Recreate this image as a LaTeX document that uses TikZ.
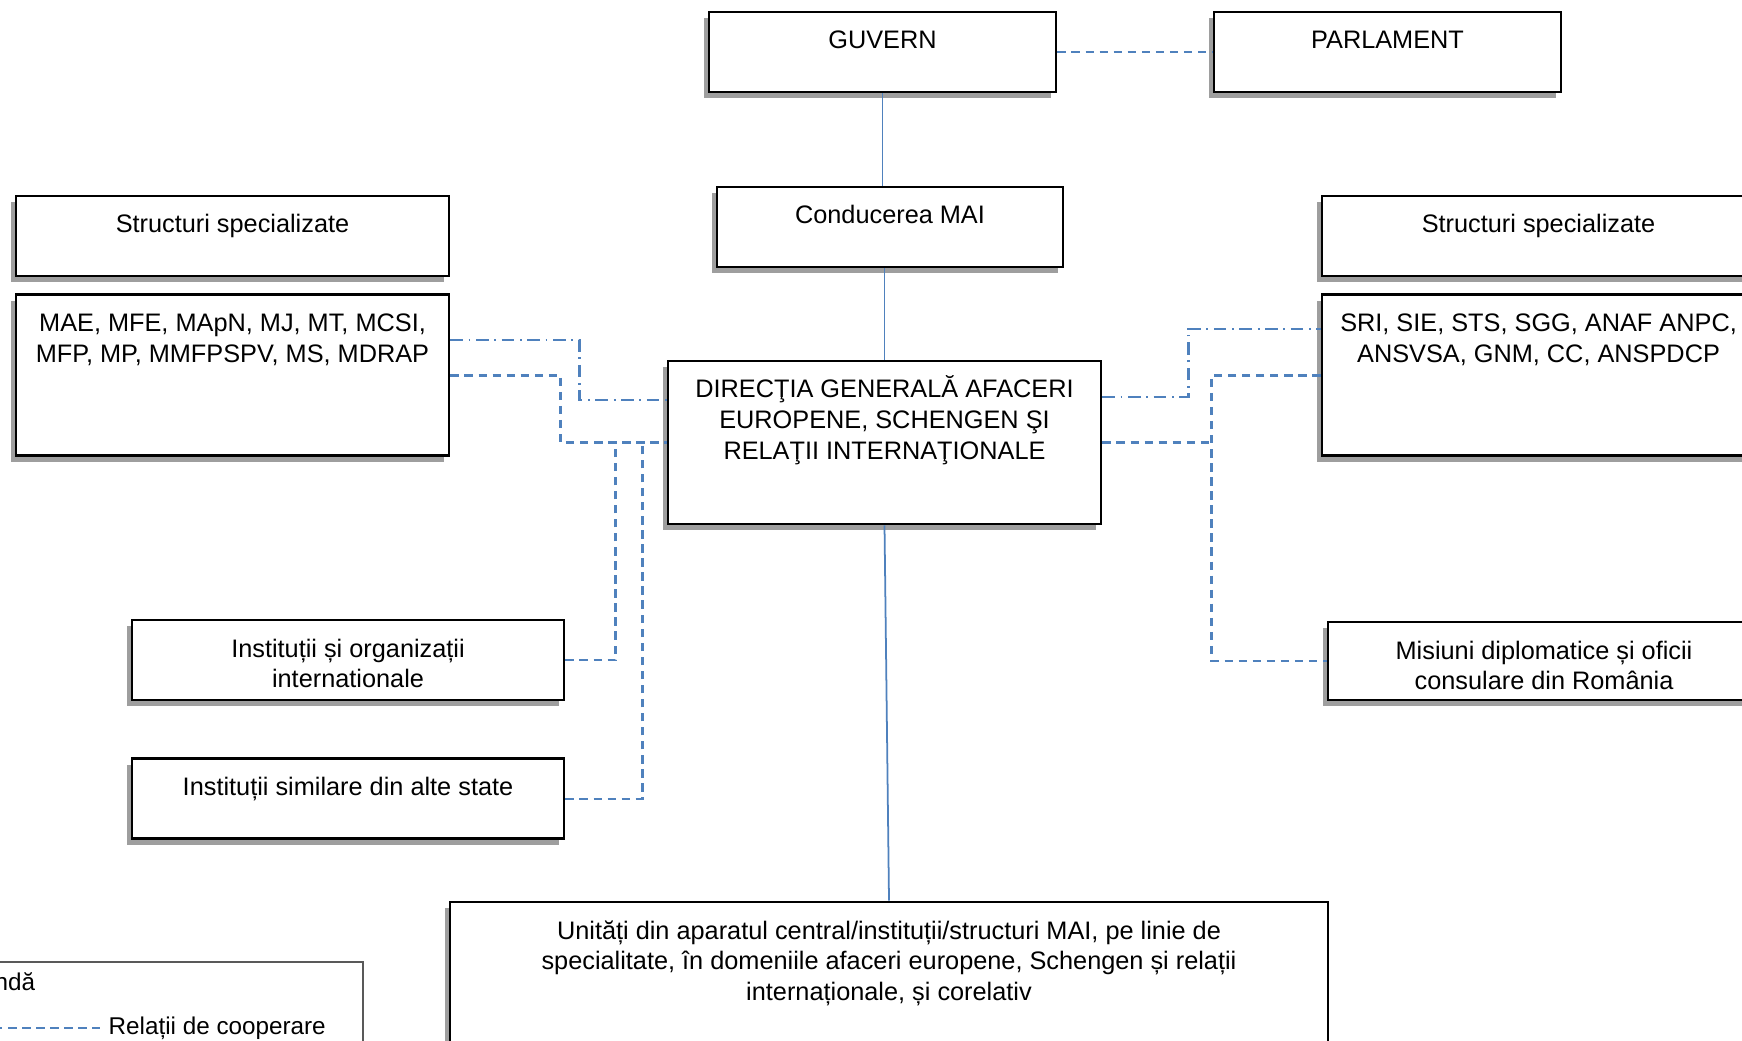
\documentclass[tikz,border=0pt]{standalone}
\usepackage{fontspec}
\setmainfont{Liberation Sans}
\usepackage{tikz}
\usetikzlibrary{positioning,shadows,calc}
\definecolor{linkblue}{RGB}{79,129,189}
\definecolor{shadowgray}{RGB}{158,158,158}
\tikzset{
    orgbox/.style 2 args={draw, line width=0.8pt, fill=white, inner sep=0pt,
        font=\fontsize{7.2}{8.8}\selectfont,
        drop shadow={shadow xshift=-0.5mm, shadow yshift=-0.6mm, fill=shadowgray, opacity=1},
        execute at begin node={\begin{minipage}[c][#2][t]{#1}\centering\rule{0pt}{3.7mm}},
        execute at end node={\end{minipage}}},
    legbox/.style={draw=black!65, line width=0.5pt, minimum width=4.33cm, minimum height=1.08cm, inner sep=0pt},
    legtext/.style={font=\fontsize{6.9}{8}\selectfont, inner sep=0pt, anchor=west},
    hierarchy/.style={linkblue, line width=0.5pt},
    coop/.style={linkblue, line width=0.7pt, dash pattern=on 2.4pt off 1.6pt},
    coord/.style={linkblue, line width=0.7pt, dash pattern=on 3.6pt off 1.6pt on 0.5pt off 1.6pt}
}

\begin{document}
\begin{tikzpicture}
    \clip (0,0) rectangle (17.42,-10.40);

    % conducere
    \node[orgbox={3.47cm}{0.80cm}] (guvern) at (8.825,-0.52) {GUVERN};
    \node[orgbox={3.47cm}{0.80cm}] (parlament) at (13.875,-0.52) {PARLAMENT};
    \node[orgbox={3.46cm}{0.80cm}] (conducerea) at (8.90,-2.27) {Conducerea MAI};
    \node[orgbox={4.33cm}{1.63cm}] (dg) at (8.845,-4.425)
        {DIRECŢIA GENERALĂ AFACERI\\ EUROPENE, SCHENGEN ŞI\\ RELAŢII INTERNAŢIONALE};
    \node[orgbox={8.78cm}{1.63cm}] (unitati) at (8.89,-9.835)
        {Unități din aparatul central/instituții/structuri MAI, pe linie de\\ specialitate, în domeniile afaceri europene, Schengen și relații\\ internaționale, și corelativ};

    % stanga
    \node[orgbox={4.33cm}{0.80cm}] (structl) at (2.325,-2.36) {Structuri specializate};
    \node[orgbox={4.33cm}{1.61cm}, below=0.16cm of structl] (listl)
        {MAE, MFE, MApN, MJ, MT, MCSI,\\ MFP, MP, MMFPSPV, MS, MDRAP};
    \node[orgbox={4.32cm}{0.80cm}] (instorg) at (3.48,-6.60)
        {Instituții și organizații\\ internationale};
    \node[orgbox={4.32cm}{0.80cm}, below=0.56cm of instorg] (instsim)
        {Instituții similare din alte state};

    % dreapta
    \node[orgbox={4.33cm}{0.80cm}] (structr) at (15.385,-2.36) {Structuri specializate};
    \node[orgbox={4.33cm}{1.61cm}, below=0.16cm of structr] (listr)
        {SRI, SIE, STS, SGG, ANAF ANPC,\\ ANSVSA, GNM, CC, ANSPDCP};
    \node[orgbox={4.32cm}{0.78cm}] (misiuni) at (15.44,-6.61)
        {Misiuni diplomatice și oficii\\ consulare din România};

    % legaturi
    \draw[hierarchy] (guvern.south) -- (guvern.south |- conducerea.north);
    \draw[hierarchy] (dg.north) -- (dg.north |- conducerea.south);
    \draw[hierarchy] (dg.south) -- (unitati.north);
    \draw[coop] (guvern.east) -- (parlament.west);

    \draw[coord] ([yshift=3.55mm]listl.east) -- ++(1.29,0) |- ([yshift=4.25mm]dg.west);
    \draw[coop] (listl.east) -- ++(1.10,0) |- (dg.west);
    \draw[coop] (instorg.east) -| ([xshift=-5.1mm]dg.west);
    \draw[coop] (instsim.east) -| ([xshift=-2.4mm]dg.west);

    \draw[coord] ([yshift=4.55mm]dg.east) -- ++(0.86,0) |- ([yshift=4.65mm]listr.west);
    \draw[coop] (dg.east) -- ++(1.12,0);
    \draw[coop] (listr.west) -- ++(-1.09,0) |- (misiuni.west);

    % legenda
    \node[legbox] (legend) at (1.465,-10.16) {};
    \node[legtext] (legtitle) at (-0.60,-9.84) {Legendă};
    \coordinate (legstart) at (-0.2,-10.28);
    \node[legtext] (legrel) at (1.08,-10.28) {Relații de cooperare};
    \draw[coop] (legstart) -- ([xshift=-0.8mm]legrel.west);
\end{tikzpicture}
\end{document}
